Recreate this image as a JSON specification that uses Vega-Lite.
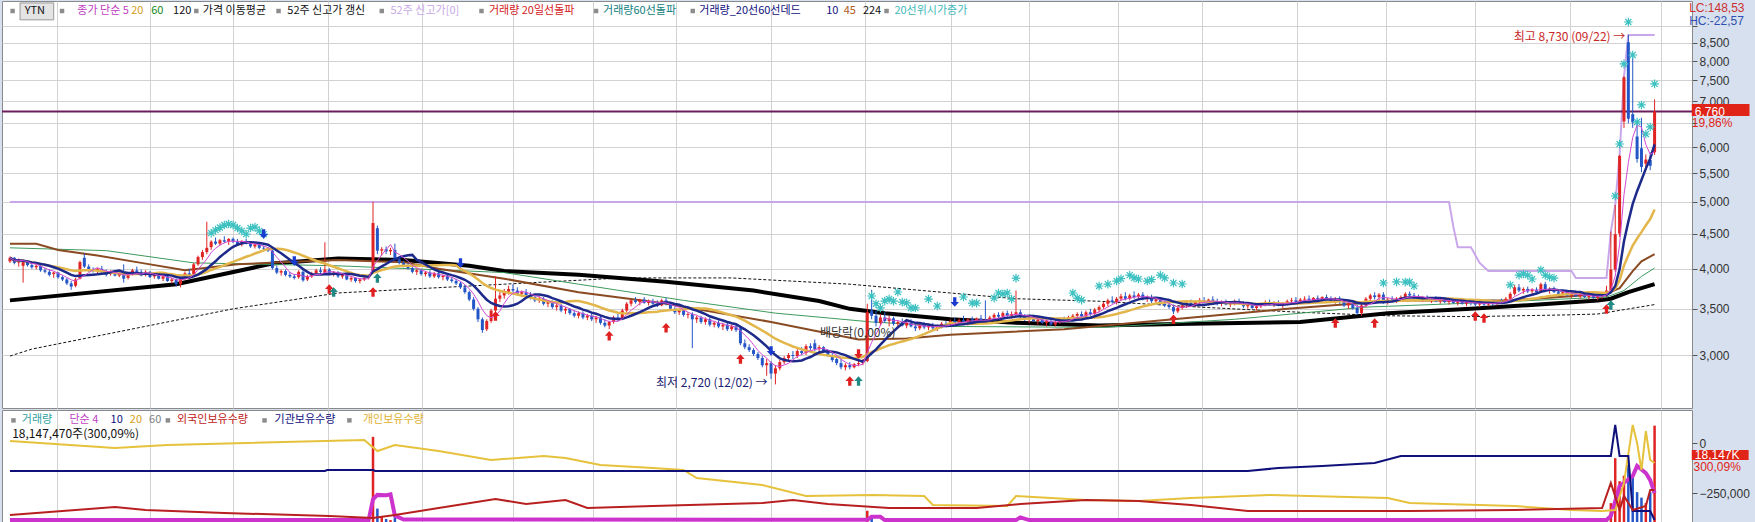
{
"$schema":"https://vega.github.io/schema/vega-lite/v6.json",
"padding":0,
"spacing":0,
"background":"#d7e0ee",
"config":{
 "view":{"stroke":"#8a8a8a","fill":"#ffffff"},
 "concat":{"spacing":0},
 "axis":{"gridColor":"#d2d2d2","gridWidth":1,"domain":false,"title":null,"labelFont":"Liberation Sans","labelFontSize":12,"labelColor":"#333333","tickColor":"#555555","tickSize":5,"labelPadding":2,"labelOverlap":false,"labelFlush":false,"labelBound":false},
 "axisX":{"labels":false,"ticks":false,"minExtent":0,"maxExtent":0},
 "text":{"font":"Noto Sans CJK KR","fontSize":11,"align":"left","baseline":"middle"}
},
"datasets":{
"c":[
{"i":0,"o":4100,"h":4170,"l":4080,"c":4150},{"i":1,"o":4150,"h":4160,"l":4060,"c":4080},{"i":2,"o":4085,"h":4140,"l":4030,"c":4120},{"i":3,"o":4040,"h":4130,"l":3820,"c":4090},{"i":4,"o":4090,"h":4110,"l":4030,"c":4050},{"i":5,"o":4050,"h":4080,"l":4000,"c":4020},{"i":6,"o":4020,"h":4060,"l":3990,"c":4040},{"i":7,"o":4040,"h":4050,"l":3960,"c":3980},{"i":8,"o":3980,"h":4010,"l":3940,"c":3960},{"i":9,"o":3960,"h":3990,"l":3900,"c":3920},
{"i":10,"o":3930,"h":3960,"l":3880,"c":3950},{"i":11,"o":3950,"h":3960,"l":3870,"c":3890},{"i":12,"o":3890,"h":3910,"l":3840,"c":3860},{"i":13,"o":3860,"h":3880,"l":3790,"c":3810},{"i":14,"o":3810,"h":3840,"l":3730,"c":3770},{"i":15,"o":3780,"h":3880,"l":3760,"c":3860},{"i":16,"o":3870,"h":4110,"l":3860,"c":4090},{"i":17,"o":4150,"h":4210,"l":4010,"c":4030},{"i":18,"o":4030,"h":4060,"l":3960,"c":3990},{"i":19,"o":3990,"h":4020,"l":3950,"c":3970},
{"i":20,"o":3970,"h":4010,"l":3940,"c":4000},{"i":21,"o":4000,"h":4040,"l":3950,"c":3960},{"i":22,"o":3960,"h":3990,"l":3900,"c":3920},{"i":23,"o":3930,"h":3980,"l":3910,"c":3960},{"i":24,"o":3960,"h":3980,"l":3900,"c":3910},{"i":25,"o":3910,"h":3950,"l":3890,"c":3940},{"i":26,"o":3940,"h":4060,"l":3820,"c":3870},{"i":27,"o":3880,"h":3950,"l":3860,"c":3930},{"i":28,"o":3930,"h":4000,"l":3910,"c":3980},{"i":29,"o":3980,"h":4030,"l":3950,"c":3960},
{"i":30,"o":3960,"h":3990,"l":3900,"c":3910},{"i":31,"o":3920,"h":3980,"l":3900,"c":3960},{"i":32,"o":3960,"h":3970,"l":3880,"c":3890},{"i":33,"o":3900,"h":3940,"l":3870,"c":3930},{"i":34,"o":3930,"h":3950,"l":3860,"c":3870},{"i":35,"o":3870,"h":3910,"l":3840,"c":3900},{"i":36,"o":3900,"h":3920,"l":3830,"c":3840},{"i":37,"o":3840,"h":3880,"l":3810,"c":3860},{"i":38,"o":3860,"h":3870,"l":3770,"c":3800},{"i":39,"o":3800,"h":3890,"l":3760,"c":3880},
{"i":40,"o":3880,"h":3960,"l":3860,"c":3940},{"i":41,"o":3940,"h":4000,"l":3900,"c":3920},{"i":42,"o":3930,"h":4080,"l":3920,"c":4060},{"i":43,"o":4060,"h":4180,"l":4040,"c":4160},{"i":44,"o":4160,"h":4260,"l":4120,"c":4230},{"i":45,"o":4230,"h":4680,"l":4200,"c":4290},{"i":46,"o":4300,"h":4400,"l":4260,"c":4380},{"i":47,"o":4380,"h":4440,"l":4330,"c":4350},{"i":48,"o":4350,"h":4420,"l":4320,"c":4400},{"i":49,"o":4400,"h":4460,"l":4360,"c":4380},
{"i":50,"o":4380,"h":4430,"l":4330,"c":4420},{"i":51,"o":4420,"h":4440,"l":4360,"c":4380},{"i":52,"o":4380,"h":4420,"l":4330,"c":4340},{"i":53,"o":4340,"h":4400,"l":4310,"c":4390},{"i":54,"o":4390,"h":4420,"l":4340,"c":4350},{"i":55,"o":4350,"h":4380,"l":4290,"c":4310},{"i":56,"o":4310,"h":4370,"l":4280,"c":4340},{"i":57,"o":4340,"h":4360,"l":4270,"c":4290},{"i":58,"o":4290,"h":4320,"l":4250,"c":4280},{"i":59,"o":4280,"h":4300,"l":4230,"c":4250},
{"i":60,"o":4250,"h":4270,"l":3990,"c":4010},{"i":61,"o":4010,"h":4040,"l":3930,"c":3950},{"i":62,"o":3950,"h":3990,"l":3910,"c":3970},{"i":63,"o":3970,"h":3990,"l":3900,"c":3920},{"i":64,"o":3920,"h":3960,"l":3880,"c":3900},{"i":65,"o":3900,"h":3930,"l":3860,"c":3880},{"i":66,"o":3890,"h":3980,"l":3870,"c":3960},{"i":67,"o":3960,"h":3990,"l":3830,"c":3850},{"i":68,"o":3860,"h":3920,"l":3840,"c":3900},{"i":69,"o":3900,"h":3960,"l":3880,"c":3940},
{"i":70,"o":3940,"h":4000,"l":3920,"c":3980},{"i":71,"o":3980,"h":4020,"l":3940,"c":3960},{"i":72,"o":3950,"h":4370,"l":3930,"c":3990},{"i":73,"o":3990,"h":4010,"l":3920,"c":3930},{"i":74,"o":3930,"h":3970,"l":3900,"c":3950},{"i":75,"o":3950,"h":3970,"l":3880,"c":3900},{"i":76,"o":3900,"h":3940,"l":3870,"c":3920},{"i":77,"o":3920,"h":3930,"l":3850,"c":3860},{"i":78,"o":3860,"h":3900,"l":3830,"c":3880},{"i":79,"o":3880,"h":3890,"l":3820,"c":3840},
{"i":80,"o":3840,"h":3880,"l":3810,"c":3860},{"i":81,"o":3860,"h":3900,"l":3840,"c":3880},{"i":82,"o":3880,"h":3920,"l":3860,"c":3900},{"i":83,"o":3980,"h":5000,"l":3960,"c":4660},{"i":84,"o":4580,"h":4620,"l":4200,"c":4250},{"i":85,"o":4250,"h":4300,"l":4180,"c":4270},{"i":86,"o":4270,"h":4310,"l":4200,"c":4240},{"i":87,"o":4240,"h":4290,"l":4190,"c":4260},{"i":88,"o":4260,"h":4350,"l":4110,"c":4130},{"i":89,"o":4130,"h":4160,"l":4060,"c":4080},
{"i":90,"o":4080,"h":4110,"l":4020,"c":4040},{"i":91,"o":4040,"h":4080,"l":3990,"c":4010},{"i":92,"o":4010,"h":4040,"l":3940,"c":3960},{"i":93,"o":3960,"h":4000,"l":3920,"c":3980},{"i":94,"o":3980,"h":4000,"l":3910,"c":3930},{"i":95,"o":3930,"h":3970,"l":3900,"c":3950},{"i":96,"o":3950,"h":3980,"l":3880,"c":3900},{"i":97,"o":3900,"h":3960,"l":3880,"c":3940},{"i":98,"o":3940,"h":3960,"l":3870,"c":3890},{"i":99,"o":3890,"h":3920,"l":3850,"c":3910},
{"i":100,"o":3910,"h":3930,"l":3840,"c":3860},{"i":101,"o":3860,"h":3890,"l":3820,"c":3840},{"i":102,"o":3840,"h":3870,"l":3790,"c":3810},{"i":103,"o":3810,"h":3830,"l":3740,"c":3760},{"i":104,"o":3760,"h":3790,"l":3680,"c":3700},{"i":105,"o":3700,"h":3720,"l":3590,"c":3610},{"i":106,"o":3610,"h":3640,"l":3480,"c":3500},{"i":107,"o":3500,"h":3520,"l":3350,"c":3380},{"i":108,"o":3380,"h":3400,"l":3230,"c":3260},{"i":109,"o":3270,"h":3380,"l":3250,"c":3360},
{"i":110,"o":3360,"h":3500,"l":3340,"c":3480},{"i":111,"o":3480,"h":3900,"l":3460,"c":3620},{"i":112,"o":3620,"h":3700,"l":3580,"c":3660},{"i":113,"o":3660,"h":3740,"l":3620,"c":3700},{"i":114,"o":3700,"h":3780,"l":3670,"c":3740},{"i":115,"o":3740,"h":3800,"l":3700,"c":3720},{"i":116,"o":3720,"h":3760,"l":3660,"c":3680},{"i":117,"o":3680,"h":3720,"l":3640,"c":3700},{"i":118,"o":3700,"h":3740,"l":3650,"c":3660},{"i":119,"o":3660,"h":3700,"l":3610,"c":3640},
{"i":120,"o":3640,"h":3670,"l":3580,"c":3600},{"i":121,"o":3600,"h":3650,"l":3570,"c":3620},{"i":122,"o":3620,"h":3640,"l":3540,"c":3560},{"i":123,"o":3560,"h":3600,"l":3520,"c":3580},{"i":124,"o":3580,"h":3600,"l":3500,"c":3520},{"i":125,"o":3520,"h":3560,"l":3480,"c":3540},{"i":126,"o":3540,"h":3560,"l":3460,"c":3480},{"i":127,"o":3480,"h":3520,"l":3440,"c":3500},{"i":128,"o":3500,"h":3510,"l":3430,"c":3450},{"i":129,"o":3450,"h":3480,"l":3400,"c":3420},
{"i":130,"o":3420,"h":3470,"l":3390,"c":3450},{"i":131,"o":3450,"h":3470,"l":3380,"c":3400},{"i":132,"o":3400,"h":3440,"l":3370,"c":3420},{"i":133,"o":3420,"h":3450,"l":3360,"c":3380},{"i":134,"o":3380,"h":3420,"l":3340,"c":3400},{"i":135,"o":3400,"h":3430,"l":3320,"c":3340},{"i":136,"o":3340,"h":3380,"l":3290,"c":3310},{"i":137,"o":3310,"h":3360,"l":3270,"c":3350},{"i":138,"o":3350,"h":3420,"l":3330,"c":3400},{"i":139,"o":3400,"h":3440,"l":3360,"c":3380},
{"i":140,"o":3380,"h":3500,"l":3370,"c":3480},{"i":141,"o":3480,"h":3580,"l":3460,"c":3560},{"i":142,"o":3560,"h":3620,"l":3530,"c":3600},{"i":143,"o":3600,"h":3640,"l":3560,"c":3580},{"i":144,"o":3580,"h":3620,"l":3540,"c":3610},{"i":145,"o":3610,"h":3640,"l":3560,"c":3570},{"i":146,"o":3570,"h":3610,"l":3540,"c":3590},{"i":147,"o":3590,"h":3620,"l":3550,"c":3560},{"i":148,"o":3560,"h":3600,"l":3520,"c":3540},{"i":149,"o":3540,"h":3620,"l":3530,"c":3600},
{"i":150,"o":3600,"h":3630,"l":3540,"c":3560},{"i":151,"o":3560,"h":3580,"l":3480,"c":3500},{"i":152,"o":3500,"h":3520,"l":3440,"c":3460},{"i":153,"o":3460,"h":3500,"l":3430,"c":3480},{"i":154,"o":3480,"h":3500,"l":3410,"c":3430},{"i":155,"o":3430,"h":3460,"l":3390,"c":3440},{"i":156,"o":3440,"h":3460,"l":3070,"c":3380},{"i":157,"o":3380,"h":3420,"l":3340,"c":3400},{"i":158,"o":3400,"h":3420,"l":3330,"c":3350},{"i":159,"o":3350,"h":3400,"l":3320,"c":3380},
{"i":160,"o":3380,"h":3400,"l":3300,"c":3320},{"i":161,"o":3320,"h":3360,"l":3290,"c":3340},{"i":162,"o":3340,"h":3370,"l":3280,"c":3300},{"i":163,"o":3300,"h":3340,"l":3260,"c":3320},{"i":164,"o":3320,"h":3340,"l":3250,"c":3270},{"i":165,"o":3270,"h":3320,"l":3250,"c":3300},{"i":166,"o":3300,"h":3330,"l":3240,"c":3260},{"i":167,"o":3280,"h":3300,"l":3100,"c":3120},{"i":168,"o":3120,"h":3160,"l":3060,"c":3080},{"i":169,"o":3080,"h":3110,"l":3030,"c":3050},
{"i":170,"o":3050,"h":3070,"l":2990,"c":3010},{"i":171,"o":3010,"h":3030,"l":2950,"c":2970},{"i":172,"o":2970,"h":2990,"l":2880,"c":2900},{"i":173,"o":2900,"h":2960,"l":2800,"c":2920},{"i":174,"o":2920,"h":2940,"l":2770,"c":2820},{"i":175,"o":2820,"h":2900,"l":2720,"c":2870},{"i":176,"o":2870,"h":2950,"l":2850,"c":2930},{"i":177,"o":2930,"h":2990,"l":2910,"c":2970},{"i":178,"o":2970,"h":3020,"l":2940,"c":3000},{"i":179,"o":3000,"h":3040,"l":2960,"c":2990},
{"i":180,"o":2990,"h":3060,"l":2970,"c":3040},{"i":181,"o":3040,"h":3080,"l":3000,"c":3020},{"i":182,"o":3020,"h":3110,"l":3000,"c":3090},{"i":183,"o":3090,"h":3120,"l":3050,"c":3070},{"i":184,"o":3120,"h":3160,"l":3040,"c":3060},{"i":185,"o":3060,"h":3100,"l":3030,"c":3080},{"i":186,"o":3080,"h":3090,"l":3020,"c":3040},{"i":187,"o":3040,"h":3060,"l":2980,"c":3000},{"i":188,"o":3000,"h":3020,"l":2930,"c":2950},{"i":189,"o":2960,"h":3000,"l":2900,"c":2920},
{"i":190,"o":2920,"h":2960,"l":2860,"c":2880},{"i":191,"o":2880,"h":2920,"l":2850,"c":2900},{"i":192,"o":2900,"h":2930,"l":2860,"c":2880},{"i":193,"o":2880,"h":2920,"l":2870,"c":2910},{"i":194,"o":2910,"h":2950,"l":2890,"c":2920},{"i":195,"o":2920,"h":2960,"l":2900,"c":2940},{"i":196,"o":2940,"h":3560,"l":2930,"c":3460},{"i":197,"o":3480,"h":3730,"l":3380,"c":3420},{"i":198,"o":3420,"h":3480,"l":3300,"c":3340},{"i":199,"o":3340,"h":3440,"l":3310,"c":3400},
{"i":200,"o":3400,"h":3460,"l":3340,"c":3360},{"i":201,"o":3360,"h":3420,"l":3300,"c":3390},{"i":202,"o":3390,"h":3410,"l":3310,"c":3330},{"i":203,"o":3330,"h":3370,"l":3280,"c":3350},{"i":204,"o":3350,"h":3390,"l":3300,"c":3310},{"i":205,"o":3310,"h":3360,"l":3280,"c":3340},{"i":206,"o":3340,"h":3380,"l":3290,"c":3300},{"i":207,"o":3300,"h":3330,"l":3250,"c":3280},{"i":208,"o":3280,"h":3340,"l":3260,"c":3320},{"i":209,"o":3320,"h":3350,"l":3270,"c":3290},
{"i":210,"o":3290,"h":3330,"l":3260,"c":3310},{"i":211,"o":3310,"h":3340,"l":3260,"c":3280},{"i":212,"o":3280,"h":3320,"l":3250,"c":3300},{"i":213,"o":3300,"h":3350,"l":3280,"c":3330},{"i":214,"o":3330,"h":3360,"l":3290,"c":3310},{"i":215,"o":3310,"h":3380,"l":3300,"c":3360},{"i":216,"o":3360,"h":3400,"l":3320,"c":3340},{"i":217,"o":3340,"h":3390,"l":3320,"c":3370},{"i":218,"o":3370,"h":3420,"l":3340,"c":3350},{"i":219,"o":3350,"h":3390,"l":3310,"c":3380},
{"i":220,"o":3380,"h":3410,"l":3340,"c":3360},{"i":221,"o":3360,"h":3400,"l":3330,"c":3390},{"i":222,"o":3390,"h":3430,"l":3350,"c":3370},{"i":223,"o":3370,"h":3600,"l":3330,"c":3350},{"i":224,"o":3350,"h":3420,"l":3330,"c":3400},{"i":225,"o":3400,"h":3450,"l":3370,"c":3430},{"i":226,"o":3430,"h":3460,"l":3380,"c":3410},{"i":227,"o":3410,"h":3470,"l":3390,"c":3450},{"i":228,"o":3450,"h":3480,"l":3400,"c":3420},{"i":229,"o":3420,"h":3470,"l":3390,"c":3440},
{"i":230,"o":3440,"h":3720,"l":3420,"c":3460},{"i":231,"o":3460,"h":3490,"l":3390,"c":3410},{"i":232,"o":3410,"h":3440,"l":3360,"c":3380},{"i":233,"o":3380,"h":3420,"l":3340,"c":3400},{"i":234,"o":3400,"h":3430,"l":3350,"c":3360},{"i":235,"o":3360,"h":3400,"l":3320,"c":3380},{"i":236,"o":3380,"h":3410,"l":3330,"c":3340},{"i":237,"o":3340,"h":3380,"l":3300,"c":3360},{"i":238,"o":3360,"h":3390,"l":3310,"c":3320},{"i":239,"o":3320,"h":3370,"l":3300,"c":3350},
{"i":240,"o":3350,"h":3400,"l":3330,"c":3380},{"i":241,"o":3380,"h":3410,"l":3340,"c":3360},{"i":242,"o":3360,"h":3420,"l":3350,"c":3400},{"i":243,"o":3400,"h":3440,"l":3370,"c":3420},{"i":244,"o":3420,"h":3460,"l":3390,"c":3440},{"i":245,"o":3440,"h":3470,"l":3400,"c":3410},{"i":246,"o":3410,"h":3480,"l":3400,"c":3460},{"i":247,"o":3460,"h":3500,"l":3420,"c":3440},{"i":248,"o":3440,"h":3510,"l":3430,"c":3490},{"i":249,"o":3490,"h":3540,"l":3460,"c":3520},
{"i":250,"o":3520,"h":3580,"l":3500,"c":3560},{"i":251,"o":3560,"h":3620,"l":3530,"c":3600},{"i":252,"o":3600,"h":3650,"l":3560,"c":3580},{"i":253,"o":3580,"h":3640,"l":3550,"c":3620},{"i":254,"o":3620,"h":3680,"l":3590,"c":3650},{"i":255,"o":3650,"h":3700,"l":3600,"c":3620},{"i":256,"o":3620,"h":3680,"l":3600,"c":3660},{"i":257,"o":3660,"h":3710,"l":3620,"c":3640},{"i":258,"o":3640,"h":3690,"l":3610,"c":3670},{"i":259,"o":3670,"h":3700,"l":3600,"c":3620},
{"i":260,"o":3620,"h":3660,"l":3580,"c":3640},{"i":261,"o":3640,"h":3670,"l":3570,"c":3590},{"i":262,"o":3590,"h":3640,"l":3560,"c":3610},{"i":263,"o":3610,"h":3630,"l":3540,"c":3560},{"i":264,"o":3560,"h":3600,"l":3520,"c":3540},{"i":265,"o":3540,"h":3580,"l":3500,"c":3520},{"i":266,"o":3520,"h":3550,"l":3440,"c":3470},{"i":267,"o":3470,"h":3530,"l":3450,"c":3510},{"i":268,"o":3510,"h":3560,"l":3490,"c":3540},{"i":269,"o":3540,"h":3590,"l":3510,"c":3570},
{"i":270,"o":3570,"h":3610,"l":3530,"c":3550},{"i":271,"o":3550,"h":3600,"l":3520,"c":3580},{"i":272,"o":3580,"h":3630,"l":3550,"c":3600},{"i":273,"o":3600,"h":3640,"l":3560,"c":3580},{"i":274,"o":3580,"h":3620,"l":3540,"c":3610},{"i":275,"o":3610,"h":3650,"l":3570,"c":3590},{"i":276,"o":3590,"h":3620,"l":3540,"c":3560},{"i":277,"o":3560,"h":3600,"l":3530,"c":3580},{"i":278,"o":3580,"h":3610,"l":3540,"c":3550},{"i":279,"o":3550,"h":3590,"l":3520,"c":3570},
{"i":280,"o":3570,"h":3610,"l":3540,"c":3590},{"i":281,"o":3590,"h":3620,"l":3550,"c":3560},{"i":282,"o":3560,"h":3590,"l":3510,"c":3530},{"i":283,"o":3530,"h":3570,"l":3500,"c":3550},{"i":284,"o":3550,"h":3580,"l":3500,"c":3510},{"i":285,"o":3510,"h":3550,"l":3480,"c":3530},{"i":286,"o":3530,"h":3570,"l":3510,"c":3560},{"i":287,"o":3560,"h":3600,"l":3530,"c":3580},{"i":288,"o":3580,"h":3610,"l":3540,"c":3550},{"i":289,"o":3550,"h":3590,"l":3520,"c":3570},
{"i":290,"o":3570,"h":3600,"l":3530,"c":3540},{"i":291,"o":3540,"h":3580,"l":3510,"c":3560},{"i":292,"o":3560,"h":3610,"l":3540,"c":3590},{"i":293,"o":3590,"h":3630,"l":3560,"c":3600},{"i":294,"o":3600,"h":3640,"l":3570,"c":3580},{"i":295,"o":3580,"h":3630,"l":3560,"c":3610},{"i":296,"o":3610,"h":3650,"l":3580,"c":3620},{"i":297,"o":3620,"h":3660,"l":3590,"c":3600},{"i":298,"o":3600,"h":3640,"l":3560,"c":3630},{"i":299,"o":3630,"h":3660,"l":3590,"c":3610},
{"i":300,"o":3610,"h":3650,"l":3580,"c":3640},{"i":301,"o":3640,"h":3670,"l":3600,"c":3620},{"i":302,"o":3620,"h":3650,"l":3570,"c":3590},{"i":303,"o":3590,"h":3640,"l":3560,"c":3610},{"i":304,"o":3610,"h":3650,"l":3560,"c":3580},{"i":305,"o":3580,"h":3610,"l":3520,"c":3540},{"i":306,"o":3540,"h":3580,"l":3500,"c":3560},{"i":307,"o":3560,"h":3590,"l":3490,"c":3510},{"i":308,"o":3510,"h":3550,"l":3430,"c":3450},{"i":309,"o":3450,"h":3560,"l":3420,"c":3540},
{"i":310,"o":3540,"h":3640,"l":3520,"c":3620},{"i":311,"o":3620,"h":3680,"l":3580,"c":3660},{"i":312,"o":3660,"h":3700,"l":3610,"c":3640},{"i":313,"o":3640,"h":3690,"l":3600,"c":3670},{"i":314,"o":3670,"h":3700,"l":3560,"c":3580},{"i":315,"o":3580,"h":3630,"l":3550,"c":3610},{"i":316,"o":3610,"h":3650,"l":3580,"c":3600},{"i":317,"o":3600,"h":3640,"l":3570,"c":3620},{"i":318,"o":3620,"h":3660,"l":3590,"c":3640},{"i":319,"o":3640,"h":3700,"l":3620,"c":3680},
{"i":320,"o":3680,"h":3710,"l":3640,"c":3660},{"i":321,"o":3660,"h":3690,"l":3620,"c":3640},{"i":322,"o":3640,"h":3670,"l":3600,"c":3610},{"i":323,"o":3610,"h":3650,"l":3580,"c":3630},{"i":324,"o":3630,"h":3660,"l":3590,"c":3600},{"i":325,"o":3600,"h":3640,"l":3570,"c":3620},{"i":326,"o":3620,"h":3650,"l":3580,"c":3590},{"i":327,"o":3590,"h":3630,"l":3560,"c":3610},{"i":328,"o":3610,"h":3640,"l":3570,"c":3580},{"i":329,"o":3580,"h":3620,"l":3550,"c":3600},
{"i":330,"o":3600,"h":3630,"l":3560,"c":3570},{"i":331,"o":3570,"h":3610,"l":3540,"c":3590},{"i":332,"o":3590,"h":3620,"l":3550,"c":3560},{"i":333,"o":3560,"h":3600,"l":3530,"c":3580},{"i":334,"o":3580,"h":3610,"l":3540,"c":3570},{"i":335,"o":3570,"h":3600,"l":3530,"c":3550},{"i":336,"o":3550,"h":3590,"l":3520,"c":3570},{"i":337,"o":3570,"h":3600,"l":3530,"c":3550},{"i":338,"o":3550,"h":3590,"l":3530,"c":3580},{"i":339,"o":3580,"h":3610,"l":3540,"c":3560},
{"i":340,"o":3560,"h":3600,"l":3540,"c":3590},{"i":341,"o":3590,"h":3620,"l":3560,"c":3580},{"i":342,"o":3580,"h":3640,"l":3570,"c":3620},{"i":343,"o":3620,"h":3700,"l":3600,"c":3680},{"i":344,"o":3680,"h":3790,"l":3660,"c":3760},{"i":345,"o":3760,"h":3800,"l":3700,"c":3720},{"i":346,"o":3720,"h":3760,"l":3680,"c":3740},{"i":347,"o":3740,"h":3770,"l":3690,"c":3710},{"i":348,"o":3710,"h":3750,"l":3680,"c":3730},{"i":349,"o":3730,"h":3760,"l":3680,"c":3700},
{"i":350,"o":3700,"h":3820,"l":3690,"c":3800},{"i":351,"o":3800,"h":3830,"l":3700,"c":3720},{"i":352,"o":3720,"h":3760,"l":3680,"c":3740},{"i":353,"o":3740,"h":3770,"l":3690,"c":3700},{"i":354,"o":3700,"h":3730,"l":3650,"c":3680},{"i":355,"o":3680,"h":3720,"l":3640,"c":3700},{"i":356,"o":3700,"h":3730,"l":3650,"c":3660},{"i":357,"o":3660,"h":3700,"l":3630,"c":3690},{"i":358,"o":3690,"h":3720,"l":3640,"c":3650},{"i":359,"o":3650,"h":3690,"l":3620,"c":3670},
{"i":360,"o":3670,"h":3700,"l":3630,"c":3640},{"i":361,"o":3640,"h":3680,"l":3610,"c":3660},{"i":362,"o":3660,"h":3690,"l":3620,"c":3630},{"i":363,"o":3630,"h":3670,"l":3600,"c":3650},{"i":364,"o":3650,"h":3690,"l":3620,"c":3670},{"i":365,"o":3670,"h":3780,"l":3640,"c":3720},{"i":366,"o":3720,"h":4530,"l":3700,"c":3990},{"i":367,"o":3990,"h":4950,"l":3960,"c":4490},{"i":368,"o":4500,"h":5850,"l":4450,"c":5830},{"i":369,"o":6540,"h":7600,"l":6400,"c":7580},
{"i":370,"o":8520,"h":8730,"l":6500,"c":6600},{"i":371,"o":6700,"h":8100,"l":6400,"c":6520},{"i":372,"o":6220,"h":6550,"l":5700,"c":5770},{"i":373,"o":5980,"h":6620,"l":5520,"c":5620},{"i":374,"o":5680,"h":5860,"l":5560,"c":5760},{"i":375,"o":5750,"h":5900,"l":5560,"c":5640},{"i":376,"o":5900,"h":7040,"l":5850,"c":6760}
],
"ln":[
{"s":"h","i":0,"p":5000},{"s":"h","i":329,"p":5000},{"s":"h","i":330,"p":4600},{"s":"h","i":331,"p":4300},{"s":"h","i":334,"p":4300},{"s":"h","i":336,"p":4080},{"s":"h","i":338,"p":3970},{"s":"h","i":357,"p":3970},{"s":"h","i":358,"p":3880},{"s":"h","i":365,"p":3880},{"s":"h","i":366,"p":4530},{"s":"h","i":367,"p":4950},{"s":"h","i":368,"p":5850},{"s":"h","i":369,"p":7600},{"s":"h","i":370,"p":8730},{"s":"h","i":376,"p":8730},
{"s":"d","i":0,"p":2990},{"s":"d","i":5,"p":3060},{"s":"d","i":51,"p":3500},{"s":"d","i":75,"p":3690},{"s":"d","i":113,"p":3800},{"s":"d","i":140,"p":3880},{"s":"d","i":165,"p":3880},{"s":"d","i":192,"p":3800},{"s":"d","i":215,"p":3690},{"s":"d","i":230,"p":3620},{"s":"d","i":249,"p":3590},{"s":"d","i":272,"p":3520},{"s":"d","i":295,"p":3460},{"s":"d","i":315,"p":3420},{"s":"d","i":334,"p":3410},{"s":"d","i":356,"p":3430},{"s":"d","i":363,"p":3440},{"s":"d","i":376,"p":3550},
{"s":"k","i":0,"p":3600},{"s":"k","i":38,"p":3800},{"s":"k","i":60,"p":4070},{"s":"k","i":75,"p":4140},{"s":"k","i":90,"p":4120},{"s":"k","i":105,"p":4040},{"s":"k","i":113,"p":3970},{"s":"k","i":130,"p":3920},{"s":"k","i":150,"p":3830},{"s":"k","i":170,"p":3720},{"s":"k","i":185,"p":3592},{"s":"k","i":192,"p":3500},{"s":"k","i":200,"p":3450},{"s":"k","i":215,"p":3380},{"s":"k","i":230,"p":3340},{"s":"k","i":249,"p":3310},{"s":"k","i":270,"p":3330},{"s":"k","i":295,"p":3350},{"s":"k","i":315,"p":3450},{"s":"k","i":334,"p":3500},{"s":"k","i":352,"p":3560},{"s":"k","i":363,"p":3600},{"s":"k","i":366,"p":3620},{"s":"k","i":370,"p":3700},{"s":"k","i":376,"p":3800},
{"s":"g","i":0,"p":4290},{"s":"g","i":22,"p":4250},{"s":"g","i":42,"p":4080},{"s":"g","i":75,"p":4040},{"s":"g","i":105,"p":3970},{"s":"g","i":113,"p":3950},{"s":"g","i":130,"p":3800},{"s":"g","i":154,"p":3600},{"s":"g","i":175,"p":3450},{"s":"g","i":197,"p":3350},{"s":"g","i":215,"p":3300},{"s":"g","i":250,"p":3290},{"s":"g","i":280,"p":3380},{"s":"g","i":310,"p":3520},{"s":"g","i":340,"p":3580},{"s":"g","i":365,"p":3640},{"s":"g","i":369,"p":3720},{"s":"g","i":373,"p":3900},{"s":"g","i":376,"p":4010},
{"s":"b","i":0,"p":4350},{"s":"b","i":6,"p":4350},{"s":"b","i":11,"p":4260},{"s":"b","i":20,"p":4180},{"s":"b","i":30,"p":4080},{"s":"b","i":40,"p":3980},{"s":"b","i":52,"p":4060},{"s":"b","i":62,"p":4090},{"s":"b","i":75,"p":4120},{"s":"b","i":90,"p":4090},{"s":"b","i":98,"p":4000},{"s":"b","i":113,"p":3870},{"s":"b","i":130,"p":3700},{"s":"b","i":149,"p":3570},{"s":"b","i":174,"p":3350},{"s":"b","i":194,"p":3160},{"s":"b","i":205,"p":3170},{"s":"b","i":215,"p":3210},{"s":"b","i":241,"p":3270},{"s":"b","i":266,"p":3380},{"s":"b","i":292,"p":3500},{"s":"b","i":317,"p":3600},{"s":"b","i":343,"p":3600},{"s":"b","i":365,"p":3680},{"s":"b","i":368,"p":3750},{"s":"b","i":371,"p":3970},{"s":"b","i":373,"p":4100},{"s":"b","i":376,"p":4200}
],
"st":[
{"i":46,"p":4506},{"i":47,"p":4551},{"i":48,"p":4590},{"i":49,"p":4629},{"i":50,"p":4645},{"i":51,"p":4629},{"i":52,"p":4583},{"i":53,"p":4540},{"i":54,"p":4491},{"i":55,"p":4583},{"i":56,"p":4598},{"i":57,"p":4540},{"i":58,"p":4491},
{"i":197,"p":3653},{"i":198,"p":3560},{"i":199,"p":3510},{"i":200,"p":3592},{"i":201,"p":3616},{"i":202,"p":3590},{"i":203,"p":3702},{"i":204,"p":3580},{"i":205,"p":3570},{"i":206,"p":3510},{"i":207,"p":3510},{"i":210,"p":3616},{"i":212,"p":3533},{"i":218,"p":3641},{"i":220,"p":3568},{"i":221,"p":3568},{"i":225,"p":3628},{"i":226,"p":3690},{"i":227,"p":3678},{"i":228,"p":3690},{"i":229,"p":3616},{"i":230,"p":3878},{"i":243,"p":3690},{"i":244,"p":3628},{"i":245,"p":3604},{"i":249,"p":3777},
{"i":251,"p":3800},{"i":253,"p":3840},{"i":254,"p":3870},{"i":256,"p":3917},{"i":257,"p":3880},{"i":258,"p":3866},{"i":260,"p":3840},{"i":261,"p":3860},{"i":263,"p":3917},{"i":264,"p":3880},{"i":266,"p":3815},{"i":268,"p":3802},
{"i":314,"p":3815},{"i":317,"p":3830},{"i":319,"p":3827},{"i":320,"p":3827},{"i":321,"p":3777},
{"i":343,"p":3790},{"i":345,"p":3917},{"i":346,"p":3931},{"i":347,"p":3917},{"i":348,"p":3866},{"i":350,"p":3984},{"i":351,"p":3917},{"i":352,"p":3891},{"i":353,"p":3878},
{"i":367,"p":5100},{"i":368,"p":6066},{"i":369,"p":7924},{"i":370,"p":9113},{"i":371,"p":8164},{"i":372,"p":6529},{"i":373,"p":6910},{"i":374,"p":6272},{"i":375,"p":6421},{"i":376,"p":7413}
],
"ar":[
{"t":"r","i":73,"p":3739},{"t":"r","i":83,"p":3702},{"t":"r","i":111,"p":3418},{"t":"r","i":137,"p":3200},{"t":"r","i":150,"p":3285},{"t":"r","i":167,"p":2960},{"t":"r","i":192,"p":2750},{"t":"r","i":266,"p":3380},{"t":"r","i":303,"p":3338},{"t":"r","i":312,"p":3338},{"t":"r","i":335,"p":3418},{"t":"r","i":337,"p":3395},{"t":"r","i":365,"p":3499},
{"t":"g","i":74,"p":3702},{"t":"g","i":84,"p":3878},{"t":"g","i":194,"p":2750},{"t":"g","i":366,"p":3545},
{"t":"b","i":58,"p":4491},{"t":"b","i":65,"p":4105},{"t":"b","i":103,"p":4077},{"t":"b","i":174,"p":3040},{"t":"b","i":216,"p":3580},
{"t":"d","i":194,"p":3010}
],
"sq":[{"i":0.6},{"i":11.9},{"i":42.6},{"i":61.4},{"i":85},{"i":107.8},{"i":134},{"i":156.1},{"i":200.4}],
"sq2":[{"i":0.8},{"i":36.1},{"i":58.2},{"i":77.6}],
"hd":[
{"s":"y","i":0,"v":10000},{"s":"y","i":24,"v":-25000},{"s":"y","i":36,"v":-10000},{"s":"y","i":81,"v":15000},{"s":"y","i":84,"v":-40000},{"s":"y","i":88,"v":-10000},{"s":"y","i":93,"v":-25000},{"s":"y","i":98,"v":-40000},{"s":"y","i":110,"v":-85000},{"s":"y","i":122,"v":-65000},{"s":"y","i":127,"v":-75000},{"s":"y","i":135,"v":-110000},{"s":"y","i":147,"v":-125000},{"s":"y","i":154,"v":-135000},{"s":"y","i":157,"v":-175000},{"s":"y","i":172,"v":-210000},{"s":"y","i":182,"v":-265000},{"s":"y","i":197,"v":-260000},{"s":"y","i":209,"v":-265000},{"s":"y","i":211,"v":-310000},{"s":"y","i":228,"v":-315000},{"s":"y","i":230,"v":-265000},{"s":"y","i":246,"v":-285000},{"s":"y","i":258,"v":-290000},{"s":"y","i":270,"v":-275000},{"s":"y","i":288,"v":-260000},{"s":"y","i":315,"v":-275000},{"s":"y","i":320,"v":-300000},{"s":"y","i":344,"v":-315000},{"s":"y","i":357,"v":-335000},{"s":"y","i":364,"v":-340000},{"s":"y","i":367,"v":-335000},{"s":"y","i":369,"v":-200000},{"s":"y","i":371,"v":90000},{"s":"y","i":372,"v":0},{"s":"y","i":373,"v":-135000},{"s":"y","i":374,"v":60000},{"s":"y","i":375,"v":-85000},{"s":"y","i":376,"v":-100000},
{"s":"n","i":0,"v":-140000},{"s":"n","i":72,"v":-140000},{"s":"n","i":72.5,"v":-135000},{"s":"n","i":83,"v":-135000},{"s":"n","i":83.5,"v":-140000},{"s":"n","i":283,"v":-140000},{"s":"n","i":290,"v":-125000},{"s":"n","i":300,"v":-115000},{"s":"n","i":312,"v":-100000},{"s":"n","i":318,"v":-65000},{"s":"n","i":366,"v":-65000},{"s":"n","i":367,"v":90000},{"s":"n","i":368,"v":-65000},{"s":"n","i":370,"v":-65000},{"s":"n","i":371,"v":-340000},{"s":"n","i":375,"v":-340000},{"s":"n","i":376,"v":-385000},
{"s":"r","i":0,"v":-360000},{"s":"r","i":12,"v":-340000},{"s":"r","i":24,"v":-320000},{"s":"r","i":31,"v":-335000},{"s":"r","i":49,"v":-350000},{"s":"r","i":73,"v":-365000},{"s":"r","i":83,"v":-375000},{"s":"r","i":88,"v":-360000},{"s":"r","i":98,"v":-325000},{"s":"r","i":111,"v":-280000},{"s":"r","i":118,"v":-305000},{"s":"r","i":127,"v":-285000},{"s":"r","i":132,"v":-325000},{"s":"r","i":147,"v":-315000},{"s":"r","i":172,"v":-300000},{"s":"r","i":179,"v":-285000},{"s":"r","i":187,"v":-305000},{"s":"r","i":201,"v":-325000},{"s":"r","i":221,"v":-325000},{"s":"r","i":231,"v":-305000},{"s":"r","i":246,"v":-285000},{"s":"r","i":258,"v":-290000},{"s":"r","i":270,"v":-310000},{"s":"r","i":283,"v":-340000},{"s":"r","i":320,"v":-340000},{"s":"r","i":344,"v":-335000},{"s":"r","i":364,"v":-325000},{"s":"r","i":366,"v":-200000},{"s":"r","i":368,"v":-335000},{"s":"r","i":369,"v":-265000},{"s":"r","i":371,"v":-335000},{"s":"r","i":374,"v":-315000},{"s":"r","i":375,"v":-235000},{"s":"r","i":376,"v":-235000}
],
"vb":[
{"i":83,"v":16100},{"i":84,"v":3000},{"i":85,"v":1500},{"i":86,"v":1100},{"i":87,"v":900},{"i":88,"v":1400},{"i":196,"v":2600},{"i":197,"v":1800},{"i":365,"v":900},{"i":366,"v":4000},{"i":367,"v":12200},{"i":368,"v":8000},{"i":369,"v":9000},{"i":370,"v":11000},{"i":371,"v":9000},{"i":372,"v":6000},{"i":373,"v":5000},{"i":374,"v":4000},{"i":375,"v":6000},{"i":376,"v":18147}
],
"vm":[
{"i":0,"v":900},{"i":82,"v":900},{"i":83,"v":4700},{"i":84,"v":5500},{"i":86,"v":5450},{"i":87,"v":5600},{"i":88,"v":1700},{"i":90,"v":1000},{"i":196,"v":950},{"i":197,"v":1500},{"i":199,"v":1500},{"i":200,"v":900},{"i":230,"v":900},{"i":231,"v":1400},{"i":233,"v":900},{"i":365,"v":900},{"i":366,"v":1650},{"i":368,"v":7100},{"i":371,"v":8950},{"i":372,"v":10800},{"i":374,"v":9500},{"i":375,"v":8200},{"i":376,"v":5840}
]
},
"vconcat":[
{"width":1690,"height":407,
"layer":[
{"data":{"name":"ln"},"transform":[{"filter":"datum.s=='h'"}],"mark":{"type":"line","color":"#c9a6ea","strokeWidth":2},
 "encoding":{"x":{"field":"i","type":"quantitative","scale":{"domain":[-0.68,383.41],"nice":false,"zero":false},"axis":{"grid":true,"values":[10.7,32,50.9,72.7,94.3,115,133.4,152.3,173.9,195.5,215.2,233,253.4,272.5,294.3,314.5,335,356.6,377.5]}},
 "y":{"field":"p","type":"quantitative","scale":{"type":"log","domain":[2514,9775],"nice":false},"axis":{"orient":"right","values":[3000,3500,4000,4500,5000,5500,6000,6500,7000,7500,8000,8500,9000],"labelExpr":"(datum.value==9000||datum.value==6500)?'':format(datum.value,',')","minExtent":65,"maxExtent":65}}}},
{"data":{"values":[{}]},"mark":{"type":"rule","color":"#6c1d5c","strokeWidth":2},"encoding":{"y":{"datum":6760}}},
{"data":{"name":"ln"},"transform":[{"filter":"datum.s=='d'"}],"mark":{"type":"line","color":"#111111","strokeWidth":1,"strokeDash":[3,2]},"encoding":{"x":{"field":"i","type":"quantitative"},"y":{"field":"p","type":"quantitative"}}},
{"data":{"name":"ln"},"transform":[{"filter":"datum.s=='k'"}],"mark":{"type":"line","color":"#000000","strokeWidth":4},"encoding":{"x":{"field":"i","type":"quantitative"},"y":{"field":"p","type":"quantitative"}}},
{"data":{"name":"ln"},"transform":[{"filter":"datum.s=='g'"}],"mark":{"type":"line","color":"#3c9a5c","strokeWidth":1},"encoding":{"x":{"field":"i","type":"quantitative"},"y":{"field":"p","type":"quantitative"}}},
{"data":{"name":"ln"},"transform":[{"filter":"datum.s=='b'"}],"mark":{"type":"line","color":"#8a4a22","strokeWidth":2},"encoding":{"x":{"field":"i","type":"quantitative"},"y":{"field":"p","type":"quantitative"}}},
{"data":{"name":"c"},"mark":{"type":"rule","strokeWidth":1},"encoding":{"x":{"field":"i","type":"quantitative"},"y":{"field":"l","type":"quantitative"},"y2":{"field":"h"},"color":{"condition":{"test":"datum.c>=datum.o","value":"#e02424"},"value":"#2456c8"}}},
{"data":{"name":"c"},"mark":{"type":"bar","width":3},"encoding":{"x":{"field":"i","type":"quantitative"},"y":{"field":"o","type":"quantitative"},"y2":{"field":"c"},"color":{"condition":{"test":"datum.c>=datum.o","value":"#e02424"},"value":"#2456c8"}}},
{"data":{"name":"c"},"transform":[{"window":[{"op":"mean","field":"c","as":"m"}],"frame":[-19,0],"sort":[{"field":"i"}]}],"mark":{"type":"line","color":"#e2b64a","strokeWidth":2.5},"encoding":{"x":{"field":"i","type":"quantitative"},"y":{"field":"m","type":"quantitative"}}},
{"data":{"name":"c"},"transform":[{"window":[{"op":"mean","field":"c","as":"m"}],"frame":[-9,0],"sort":[{"field":"i"}]}],"mark":{"type":"line","color":"#1d2a8a","strokeWidth":2.5},"encoding":{"x":{"field":"i","type":"quantitative"},"y":{"field":"m","type":"quantitative"}}},
{"data":{"name":"c"},"transform":[{"window":[{"op":"mean","field":"c","as":"m"}],"frame":[-4,0],"sort":[{"field":"i"}]}],"mark":{"type":"line","color":"#d24ad2","strokeWidth":1},"encoding":{"x":{"field":"i","type":"quantitative"},"y":{"field":"m","type":"quantitative"}}},
{"data":{"name":"st"},"mark":{"type":"point","shape":"M-1,0L1,0M0,-1L0,1M-0.7,-0.7L0.7,0.7M-0.7,0.7L0.7,-0.7","filled":false,"color":"#3cc0c0","strokeWidth":1.2,"size":75,"opacity":1},"encoding":{"x":{"field":"i","type":"quantitative"},"y":{"field":"p","type":"quantitative"}}},
{"data":{"name":"ar"},"mark":{"type":"point","filled":true,"size":90,"opacity":1},"encoding":{"x":{"field":"i","type":"quantitative"},"y":{"field":"p","type":"quantitative"},
 "shape":{"field":"t","type":"nominal","scale":{"domain":["r","g","b","d"],"range":["M0,-1L0.9,0L0.35,0L0.35,1L-0.35,1L-0.35,0L-0.9,0Z","M0,-1L0.9,0L0.35,0L0.35,1L-0.35,1L-0.35,0L-0.9,0Z","M0,1L0.9,0L0.35,0L0.35,-1L-0.35,-1L-0.35,0L-0.9,0Z","M0,1L0.9,0L0.35,0L0.35,-1L-0.35,-1L-0.35,0L-0.9,0Z"]},"legend":null},
 "color":{"field":"t","type":"nominal","scale":{"domain":["r","g","b","d"],"range":["#e02020","#1f8a84","#1a3ad0","#e02020"]},"legend":null}}},
{"data":{"values":[{}]},"mark":{"type":"text","text":"최고 8,730 (09/22) →","color":"#c82828","align":"right","fontSize":12},"encoding":{"x":{"datum":369.3},"y":{"datum":8671}}},
{"data":{"values":[{}]},"mark":{"type":"text","text":"최저 2,720 (12/02) →","color":"#1a2070","fontSize":12},"encoding":{"x":{"datum":147.7},"y":{"datum":2733}}},
{"data":{"values":[{}]},"mark":{"type":"text","text":"배당락(0,00%)","color":"#333333","fontSize":12},"encoding":{"x":{"datum":185.2},"y":{"datum":3228}}},
{"data":{"values":[{}]},"mark":{"type":"rect","fill":"#e4e4e4","stroke":"#999999","strokeWidth":1},"encoding":{"x":{"datum":2.3},"x2":{"datum":10},"y":{"datum":9712},"y2":{"datum":9180}}},
{"data":{"name":"sq"},"mark":{"type":"point","shape":"square","filled":true,"color":"#8c8c8c","size":20,"opacity":1},"encoding":{"x":{"field":"i","type":"quantitative"},"y":{"datum":9454}}},
{"data":{"values":[{}]},"mark":{"type":"text","text":"YTN","color":"#111111"},"encoding":{"x":{"datum":3.4},"y":{"datum":9454}}},
{"data":{"values":[{}]},"mark":{"type":"text","text":"종가 단순 5","color":"#c040c0"},"encoding":{"x":{"datum":15.4},"y":{"datum":9454}}},
{"data":{"values":[{}]},"mark":{"type":"text","text":"20","color":"#d4a020"},"encoding":{"x":{"datum":27.7},"y":{"datum":9454}}},
{"data":{"values":[{}]},"mark":{"type":"text","text":"60","color":"#108a10"},"encoding":{"x":{"datum":32.3},"y":{"datum":9454}}},
{"data":{"values":[{}]},"mark":{"type":"text","text":"120","color":"#111111"},"encoding":{"x":{"datum":37.3},"y":{"datum":9454}}},
{"data":{"values":[{}]},"mark":{"type":"text","text":"가격 이동평균","color":"#111111"},"encoding":{"x":{"datum":44.1},"y":{"datum":9454}}},
{"data":{"values":[{}]},"mark":{"type":"text","text":"52주 신고가 갱신","color":"#111111"},"encoding":{"x":{"datum":63.4},"y":{"datum":9454}}},
{"data":{"values":[{}]},"mark":{"type":"text","text":"52주 신고가[0]","color":"#c8a8e8"},"encoding":{"x":{"datum":87},"y":{"datum":9454}}},
{"data":{"values":[{}]},"mark":{"type":"text","text":"거래량 20일선돌파","color":"#d42020"},"encoding":{"x":{"datum":109.5},"y":{"datum":9454}}},
{"data":{"values":[{}]},"mark":{"type":"text","text":"거래량60선돌파","color":"#108080"},"encoding":{"x":{"datum":135.6},"y":{"datum":9454}}},
{"data":{"values":[{}]},"mark":{"type":"text","text":"거래량_20선60선데드","color":"#101080"},"encoding":{"x":{"datum":157.6},"y":{"datum":9454}}},
{"data":{"values":[{}]},"mark":{"type":"text","text":"10","color":"#101080"},"encoding":{"x":{"datum":186.6},"y":{"datum":9454}}},
{"data":{"values":[{}]},"mark":{"type":"text","text":"45","color":"#b05a20"},"encoding":{"x":{"datum":190.6},"y":{"datum":9454}}},
{"data":{"values":[{}]},"mark":{"type":"text","text":"224","color":"#111111"},"encoding":{"x":{"datum":195},"y":{"datum":9454}}},
{"data":{"values":[{}]},"mark":{"type":"text","text":"20선위시가증가","color":"#40b8b8"},"encoding":{"x":{"datum":202.2},"y":{"datum":9454}}},
{"data":{"values":[{}]},"mark":{"type":"text","text":"LC:148,53","color":"#cc3030","font":"Liberation Sans","fontSize":12},"encoding":{"x":{"datum":383.9},"y":{"datum":9551}}},
{"data":{"values":[{}]},"mark":{"type":"text","text":"HC:-22,57","color":"#3050b0","font":"Liberation Sans","fontSize":12},"encoding":{"x":{"datum":383.9},"y":{"datum":9145}}},
{"data":{"values":[{}]},"mark":{"type":"rect","fill":"#e02418"},"encoding":{"x":{"datum":384.5},"x2":{"datum":397.7},"y":{"datum":6933},"y2":{"datum":6660}}},
{"data":{"values":[{}]},"mark":{"type":"text","text":"6,760","color":"#ffffff","font":"Liberation Sans","fontSize":12},"encoding":{"x":{"datum":385.2},"y":{"datum":6760}}},
{"data":{"values":[{}]},"mark":{"type":"text","text":"19,86%","color":"#e02418","font":"Liberation Sans","fontSize":12},"encoding":{"x":{"datum":384.5},"y":{"datum":6508}}}
]},
{"width":1690,"height":115,
"layer":[
{"layer":[
 {"data":{"name":"vb"},"transform":[{"lookup":"i","from":{"data":{"name":"c"},"key":"i","fields":["o","c"]}}],"mark":{"type":"bar","width":2.5},
  "encoding":{"x":{"field":"i","type":"quantitative","scale":{"domain":[-0.68,383.41],"nice":false,"zero":false},"axis":{"grid":true,"values":[10.7,32,50.9,72.7,94.3,115,133.4,152.3,173.9,195.5,215.2,233,253.4,272.5,294.3,314.5,335,356.6,377.5]}},
  "y":{"field":"v","type":"quantitative","scale":{"domain":[0,21000],"nice":false},"axis":null},
  "color":{"condition":{"test":"datum.c>=datum.o","value":"#e02424"},"value":"#2456c8"}}},
 {"data":{"name":"vm"},"mark":{"type":"line","color":"#cc33cc","strokeWidth":4},"encoding":{"x":{"field":"i","type":"quantitative"},"y":{"field":"v","type":"quantitative"}}}
]},
{"layer":[
 {"data":{"name":"hd"},"transform":[{"filter":"datum.s=='y'"}],"mark":{"type":"line","color":"#e6c23c","strokeWidth":2},
  "encoding":{"x":{"field":"i","type":"quantitative"},"y":{"field":"v","type":"quantitative","scale":{"domain":[-410000,165000],"nice":false,"zero":false},"axis":{"orient":"right","values":[0,-250000],"labelExpr":"format(datum.value,',')","minExtent":65,"maxExtent":65}}}},
 {"data":{"name":"hd"},"transform":[{"filter":"datum.s=='n'"}],"mark":{"type":"line","color":"#10107a","strokeWidth":2},"encoding":{"x":{"field":"i","type":"quantitative"},"y":{"field":"v","type":"quantitative"}}},
 {"data":{"name":"hd"},"transform":[{"filter":"datum.s=='r'"}],"mark":{"type":"line","color":"#b82020","strokeWidth":2},"encoding":{"x":{"field":"i","type":"quantitative"},"y":{"field":"v","type":"quantitative"}}},
 {"data":{"name":"sq2"},"mark":{"type":"point","shape":"square","filled":true,"color":"#8c8c8c","size":20,"opacity":1},"encoding":{"x":{"field":"i","type":"quantitative"},"y":{"datum":113000}}},
 {"data":{"values":[{}]},"mark":{"type":"text","text":"거래량","color":"#30a0a0"},"encoding":{"x":{"datum":2.7},"y":{"datum":113000}}},
 {"data":{"values":[{}]},"mark":{"type":"text","text":"단순 4","color":"#c040c0"},"encoding":{"x":{"datum":13.6},"y":{"datum":113000}}},
 {"data":{"values":[{}]},"mark":{"type":"text","text":"10","color":"#101080"},"encoding":{"x":{"datum":23},"y":{"datum":113000}}},
 {"data":{"values":[{}]},"mark":{"type":"text","text":"20","color":"#d4a020"},"encoding":{"x":{"datum":27.4},"y":{"datum":113000}}},
 {"data":{"values":[{}]},"mark":{"type":"text","text":"60","color":"#808080"},"encoding":{"x":{"datum":31.8},"y":{"datum":113000}}},
 {"data":{"values":[{}]},"mark":{"type":"text","text":"외국인보유수량","color":"#c02020"},"encoding":{"x":{"datum":38.2},"y":{"datum":113000}}},
 {"data":{"values":[{}]},"mark":{"type":"text","text":"기관보유수량","color":"#101080"},"encoding":{"x":{"datum":60.5},"y":{"datum":113000}}},
 {"data":{"values":[{}]},"mark":{"type":"text","text":"개인보유수량","color":"#e0b030"},"encoding":{"x":{"datum":80.7},"y":{"datum":113000}}},
 {"data":{"values":[{}]},"mark":{"type":"text","text":"18,147,470주(300,09%)","color":"#111111","fontSize":12},"encoding":{"x":{"datum":0.5},"y":{"datum":47000}}},
 {"data":{"values":[{}]},"mark":{"type":"rect","fill":"#e02418"},"encoding":{"x":{"datum":384.5},"x2":{"datum":397.5},"y":{"datum":-35000},"y2":{"datum":-85000}}},
 {"data":{"values":[{}]},"mark":{"type":"text","text":"18,147K","color":"#ffffff","font":"Liberation Sans","fontSize":12},"encoding":{"x":{"datum":385.2},"y":{"datum":-60000}}},
 {"data":{"values":[{}]},"mark":{"type":"text","text":"300,09%","color":"#e02418","font":"Liberation Sans","fontSize":12},"encoding":{"x":{"datum":384.9},"y":{"datum":-120000}}}
]}
],
"resolve":{"scale":{"y":"independent"}}}
]
}
